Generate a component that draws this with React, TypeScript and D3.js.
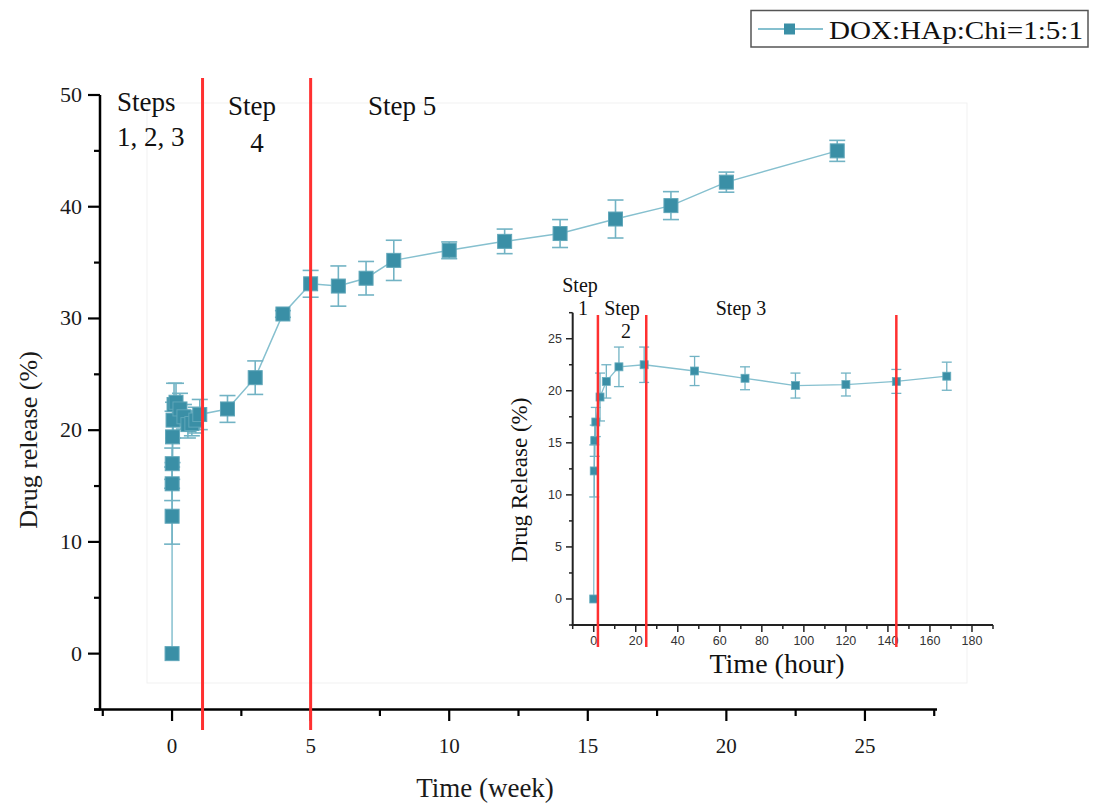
import React from "react";
import * as d3 from "d3";

// ---- Data ----
// Main chart: time in weeks (first-week points come from hourly samples / 168)
const hourTimes = [0, 0.25, 0.5, 1, 3, 6, 12, 24, 48, 72, 96, 120, 144, 168];
const hourValues = [0, 12.3, 15.2, 17.0, 19.4, 20.9, 22.3, 22.5, 21.9, 21.2, 20.5, 20.6, 20.9, 21.4];
const hourErrors = [0, 2.5, 1.5, 1.4, 2.3, 1.6, 1.9, 1.7, 1.4, 1.1, 1.2, 1.1, 1.15, 1.35];

const weekTimes = [2, 3, 4, 5, 6, 7, 8, 10, 12, 14, 16, 18, 20, 24];
const weekValues = [21.9, 24.7, 30.4, 33.1, 32.9, 33.6, 35.2, 36.1, 36.9, 37.6, 38.9, 40.1, 42.2, 45.0];
const weekErrors = [1.2, 1.5, 0.3, 1.2, 1.8, 1.5, 1.8, 0.75, 1.1, 1.25, 1.7, 1.25, 0.9, 0.94];

const mainXTicks = [0, 5, 10, 15, 20, 25];
const mainXMinor = [-2.5, 2.5, 7.5, 12.5, 17.5, 22.5, 27.5];
const mainYTicks = [0, 10, 20, 30, 40, 50];
const mainYMinor = [-5, 5, 15, 25, 35, 45];
const mainStepLines = [1.1, 5];

const insetXTicks = [0, 20, 40, 60, 80, 100, 120, 140, 160, 180];
const insetXMinor = [-10, 10, 30, 50, 70, 90, 110, 130, 150, 170, 190];
const insetYTicks = [0, 5, 10, 15, 20, 25];
const insetYMinor = [-2.5, 2.5, 7.5, 12.5, 17.5, 22.5, 27.5];
const insetStepLines = [2, 25, 144];

const legendLabel = "DOX:HAp:Chi=1:5:1";

const MARK = "#3a8fa6";
const LINE = "#86c0cf";
const ERR = "#72b3c4";
const RED = "#ff3030";

type P = { x: number; y: number; e: number };

export default function App() {
  const mainPts: P[] = [
    ...hourTimes.map((h, i) => ({ x: h / 168, y: hourValues[i], e: hourErrors[i] })),
    ...weekTimes.map((w, i) => ({ x: w, y: weekValues[i], e: weekErrors[i] })),
  ];
  const insetPts: P[] = hourTimes.map((h, i) => ({ x: h, y: hourValues[i], e: hourErrors[i] }));

  const x = d3.scaleLinear().domain([-2.6, 27.6]).range([100, 937]);
  const y = d3.scaleLinear().domain([-5, 50]).range([709.5, 95]);
  const xi = d3.scaleLinear().domain([-10, 190]).range([572.7, 993]);
  const yi = d3.scaleLinear().domain([-2.5, 27.5]).range([625, 312.7]);

  const mainLine = d3.line<P>().x((d) => x(d.x)).y((d) => y(d.y))(mainPts) || "";
  const insetLine = d3.line<P>().x((d) => xi(d.x)).y((d) => yi(d.y))(insetPts) || "";

  const serif = "'Liberation Serif', 'Times New Roman', serif";
  const sans = "'Liberation Sans', Arial, sans-serif";

  const ms = 14;
  const mis = 8;

  return (
    <svg width={1094} height={805} style={{ position: "absolute", left: 0, top: 0, background: "#fff" }}>
      {/* faint composite frame */}
      <rect x={147} y={103} width={820} height={580} fill="none" stroke="#f1f1f1" strokeWidth={1} />

      {/* main axes */}
      <g stroke="#000" fill="none">
        <line x1={100} y1={95} x2={100} y2={710.5} strokeWidth={2.5} />
        <line x1={94} y1={709.5} x2={937} y2={709.5} strokeWidth={2.5} />
        {mainYTicks.map((t) => (
          <line key={"my" + t} x1={88} x2={100} y1={y(t)} y2={y(t)} strokeWidth={2.2} />
        ))}
        {mainYMinor.map((t) => (
          <line key={"mym" + t} x1={94} x2={100} y1={y(t)} y2={y(t)} strokeWidth={2.2} />
        ))}
        {mainXTicks.map((t) => (
          <line key={"mx" + t} x1={x(t)} x2={x(t)} y1={709.5} y2={721} strokeWidth={2.2} />
        ))}
        {mainXMinor.map((t) => (
          <line key={"mxm" + t} x1={x(t)} x2={x(t)} y1={709.5} y2={716} strokeWidth={2.2} />
        ))}
      </g>
      <g fontFamily={serif} fontSize={22} fill="#1a1a1a">
        {mainYTicks.map((t) => (
          <text key={"myl" + t} x={82} y={y(t) + 7} textAnchor="end">
            {t}
          </text>
        ))}
        {mainXTicks.map((t) => (
          <text key={"mxl" + t} x={x(t)} y={753} textAnchor="middle" fontSize={21}>
            {t}
          </text>
        ))}
      </g>
      <text x={485} y={797} textAnchor="middle" fontFamily={serif} fontSize={27} fill="#1a1a1a">
        Time (week)
      </text>
      <text
        transform="translate(37,440) rotate(-90)"
        textAnchor="middle"
        fontFamily={serif}
        fontSize={26}
        fill="#1a1a1a"
      >
        Drug release (%)
      </text>

      {/* main series */}
      <path d={mainLine} fill="none" stroke={LINE} strokeWidth={1.5} />
      <g stroke={ERR} strokeWidth={1.6}>
        {mainPts
          .filter((d) => d.e > 0)
          .map((d, i) => (
            <g key={"me" + i}>
              <line x1={x(d.x)} x2={x(d.x)} y1={y(d.y - d.e)} y2={y(d.y + d.e)} />
              <line x1={x(d.x) - 8} x2={x(d.x) + 8} y1={y(d.y - d.e)} y2={y(d.y - d.e)} />
              <line x1={x(d.x) - 8} x2={x(d.x) + 8} y1={y(d.y + d.e)} y2={y(d.y + d.e)} />
            </g>
          ))}
      </g>
      <g fill={MARK} stroke="#5fa6b9" strokeWidth={1}>
        {mainPts.map((d, i) => (
          <rect key={"mm" + i} x={x(d.x) - ms / 2} y={y(d.y) - ms / 2} width={ms} height={ms} />
        ))}
      </g>

      {/* main step lines */}
      {mainStepLines.map((w) => (
        <line key={"rl" + w} x1={x(w)} x2={x(w)} y1={78} y2={730} stroke={RED} strokeWidth={3} />
      ))}
      <g fontFamily={serif} fontSize={27} fill="#111">
        <text x={117} y={111}>Steps</text>
        <text x={117} y={146}>1, 2, 3</text>
        <text x={252} y={115} textAnchor="middle">Step</text>
        <text x={257} y={152} textAnchor="middle">4</text>
        <text x={368} y={115}>Step 5</text>
      </g>

      {/* inset axes */}
      <g stroke="#222" fill="none">
        <line x1={572.7} y1={312.7} x2={572.7} y2={626} strokeWidth={2} />
        <line x1={571.7} y1={625} x2={993} y2={625} strokeWidth={2} />
        {insetYTicks.map((t) => (
          <line key={"iy" + t} x1={566} x2={572.7} y1={yi(t)} y2={yi(t)} strokeWidth={1.5} />
        ))}
        {insetYMinor.map((t) => (
          <line key={"iym" + t} x1={569} x2={572.7} y1={yi(t)} y2={yi(t)} strokeWidth={1.5} />
        ))}
        {insetXTicks.map((t) => (
          <line key={"ix" + t} x1={xi(t)} x2={xi(t)} y1={625} y2={632} strokeWidth={1.5} />
        ))}
        {insetXMinor.map((t) => (
          <line key={"ixm" + t} x1={xi(t)} x2={xi(t)} y1={625} y2={629} strokeWidth={1.5} />
        ))}
      </g>
      <g fontFamily={sans} fontSize={12.5} fill="#333">
        {insetYTicks.map((t) => (
          <text key={"iyl" + t} x={562} y={yi(t) + 4.5} textAnchor="end">
            {t}
          </text>
        ))}
        {insetXTicks.map((t) => (
          <text key={"ixl" + t} x={xi(t)} y={645} textAnchor="middle">
            {t}
          </text>
        ))}
      </g>
      <text x={777} y={673} textAnchor="middle" fontFamily={serif} fontSize={28} fill="#111">
        Time (hour)
      </text>
      <text
        transform="translate(527,480) rotate(-90)"
        textAnchor="middle"
        fontFamily={serif}
        fontSize={23}
        fill="#111"
      >
        Drug Release (%)
      </text>

      {/* inset series */}
      <path d={insetLine} fill="none" stroke={LINE} strokeWidth={1.3} />
      <g stroke={ERR} strokeWidth={1.3}>
        {insetPts
          .filter((d) => d.e > 0)
          .map((d, i) => (
            <g key={"ie" + i}>
              <line x1={xi(d.x)} x2={xi(d.x)} y1={yi(d.y - d.e)} y2={yi(d.y + d.e)} />
              <line x1={xi(d.x) - 5} x2={xi(d.x) + 5} y1={yi(d.y - d.e)} y2={yi(d.y - d.e)} />
              <line x1={xi(d.x) - 5} x2={xi(d.x) + 5} y1={yi(d.y + d.e)} y2={yi(d.y + d.e)} />
            </g>
          ))}
      </g>
      <g fill={MARK} stroke="#6aaebf" strokeWidth={0.8}>
        {insetPts.map((d, i) => (
          <rect key={"im" + i} x={xi(d.x) - mis / 2} y={yi(d.y) - mis / 2} width={mis} height={mis} />
        ))}
      </g>
      {insetStepLines.map((h) => (
        <line key={"irl" + h} x1={xi(h)} x2={xi(h)} y1={315} y2={647} stroke={RED} strokeWidth={2.5} />
      ))}
      <g fontFamily={serif} fontSize={20} fill="#111">
        <text x={580} y={292} textAnchor="middle">Step</text>
        <text x={583} y={315} textAnchor="middle">1</text>
        <text x={622} y={315} textAnchor="middle">Step</text>
        <text x={626} y={338} textAnchor="middle">2</text>
        <text x={741} y={315} textAnchor="middle">Step 3</text>
      </g>

      {/* legend */}
      <rect x={751} y={10.5} width={337} height={36.5} fill="#fff" stroke="#555" strokeWidth={1.5} />
      <line x1={758} x2={823} y1={29} y2={29} stroke={LINE} strokeWidth={1.8} />
      <rect x={784} y={23.5} width={11} height={11} fill={MARK} />
      <text
        x={829}
        y={39}
        fontFamily={serif}
        fontSize={25}
        fill="#111"
        textLength={254}
        lengthAdjust="spacingAndGlyphs"
      >
        {legendLabel}
      </text>
    </svg>
  );
}
